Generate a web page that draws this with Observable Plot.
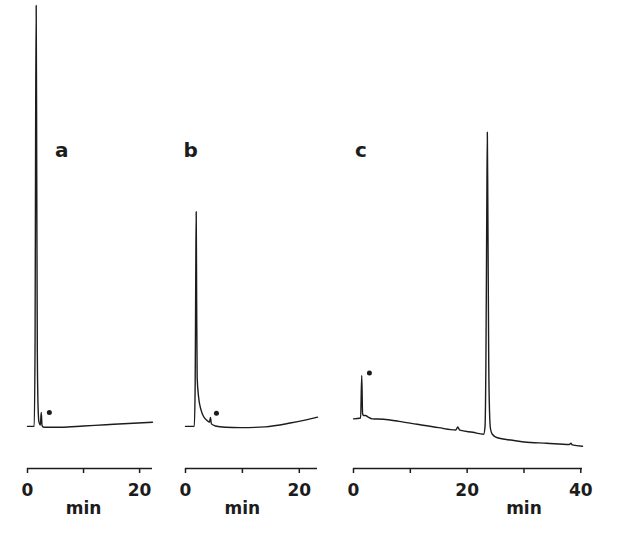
<!DOCTYPE html>
<html>
<head>
<meta charset="utf-8">
<script src="https://cdn.jsdelivr.net/npm/d3@7"></script>
<script src="https://cdn.jsdelivr.net/npm/@observablehq/plot@0.6"></script>
<style>
  html, body { margin: 0; padding: 0; background: #fff; }
  #chart { position: relative; width: 617px; height: 538px; overflow: hidden; }
  #chart svg { position: absolute; top: 0; }
</style>
</head>
<body>
<div id="chart"></div>
<script>
// ---- Data (retention time in min, detector signal in arbitrary units) ----
const timeA   = [0, 1.2, 1.35, 1.45, 1.55, 1.65, 1.75, 1.9, 2.05, 2.3, 2.45, 2.6, 2.9, 4, 6, 10, 14, 18, 22.3];
const signalA = [0, 0, 20, 70, 100, 60, 18, 4, 1, 0.3, 3.3, 0.2, -0.2, -0.2, -0.2, 0.1, 0.4, 0.7, 1.0];

const timeB   = [0, 1.55, 1.7, 1.8, 1.88, 1.96, 2.05, 2.3, 2.75, 3.2, 3.8, 4.2, 4.39, 4.55, 5.26, 7, 9.65, 14, 18.4, 21, 23.2];
const signalB = [0, 0, 10, 35, 51, 30, 11.6, 7, 3.8, 2.3, 1.4, 1.0, 2.1, 0.6, 0.1, -0.2, -0.3, -0.1, 0.8, 1.5, 2.2];

const timeC   = [0, 1.25, 1.45, 1.6, 1.75, 2.1, 2.6, 3.3, 5.3, 8, 11.2, 15, 18.0, 18.35, 18.7, 21, 22.9, 23.15, 23.3, 23.45, 23.55, 23.65, 23.8, 23.95, 24.1, 24.4, 25.3, 28, 30, 34, 38.0, 38.25, 38.5, 40.3];
const signalC = [1.8, 2.0, 12.1, 3.0, 2.6, 2.6, 2.2, 1.8, 1.7, 1.2, 0.5, -0.3, -0.85, -0.15, -0.9, -1.4, -1.85, 0, 15, 50, 69.9, 50, 15, 3, -0.5, -1.8, -2.7, -3.3, -3.7, -4.0, -4.3, -4.0, -4.4, -4.7];

// marked peaks (•)
const dotTime   = [3.9, 5.44, 2.8];
const dotSignal = [3.3, 3.1, 12.7];

// panel letters and axes
const panelLabels = ["a", "b", "c"];
const ticksA = [0, 10, 20], tickLabelsA = ["0", "", "20"];
const ticksB = [0, 10, 20], tickLabelsB = ["0", "", "20"];
const ticksC = [0, 10, 20, 30, 40], tickLabelsC = ["0", "", "20", "", "40"];
const axisTitle = "min";

// ---- Drawing ----
const ink = "#1c1c1c";
const font = "'DejaVu Sans', Verdana, sans-serif";
const yDomain = [-10, 100];

function toRows(t, s) { return t.map((d, i) => ({t: d, s: s[i]})); }

function panel({left, width, mL, mR, xMax, t, s, dotIdx, ticks, tickLabels, labelX, labelY, minX}) {
  const svg = Plot.plot({
    width, height: 538,
    marginLeft: mL, marginRight: mR, marginTop: 5, marginBottom: 70,
    x: {domain: [0, xMax], axis: null},
    y: {domain: yDomain, axis: null},
    style: {background: "transparent", fontFamily: font, fontSize: "17px", fontWeight: "bold", color: ink},
    marks: [
      Plot.ruleY([yDomain[0]], {stroke: ink, strokeWidth: 1.5}),
      Plot.axisX({
        ticks, tickSize: 5, tickPadding: 10, strokeWidth: 1.5, label: null,
        tickFormat: d => tickLabels[ticks.indexOf(d)],
        fontSize: 17, fontWeight: "bold", fill: ink, stroke: ink
      }),
      Plot.line(toRows(t, s), {x: "t", y: "s", curve: "monotone-x", stroke: ink, strokeWidth: 1.4}),
      Plot.dot([dotIdx], {x: i => dotTime[i], y: i => dotSignal[i], r: 2.5, fill: ink, stroke: "none"}),
      Plot.text([panelLabels[dotIdx]], {x: labelX, y: labelY, text: d => d, fontSize: 20, fontWeight: "bold", fill: ink}),
      Plot.text([axisTitle], {x: minX, frameAnchor: "bottom", lineAnchor: "middle", dy: 40, text: d => d, fontSize: 17, fontWeight: "bold", fill: ink})
    ]
  });
  svg.style.left = left + "px";
  document.getElementById("chart").appendChild(svg);
}

panel({left: 0, width: 170, mL: 27, mR: 18, xMax: 22.3, t: timeA, s: signalA, dotIdx: 0,
       ticks: ticksA, tickLabels: tickLabelsA, labelX: 6.1, labelY: 65.6, minX: 10});
panel({left: 170, width: 160, mL: 15, mR: 13, xMax: 23.2, t: timeB, s: signalB, dotIdx: 1,
       ticks: ticksB, tickLabels: tickLabelsB, labelX: 0.9, labelY: 65.6, minX: 10});
panel({left: 330, width: 287, mL: 23, mR: 35, xMax: 40.3, t: timeC, s: signalC, dotIdx: 2,
       ticks: ticksC, tickLabels: tickLabelsC, labelX: 1.3, labelY: 65.6, minX: 30});
</script>
</body>
</html>
